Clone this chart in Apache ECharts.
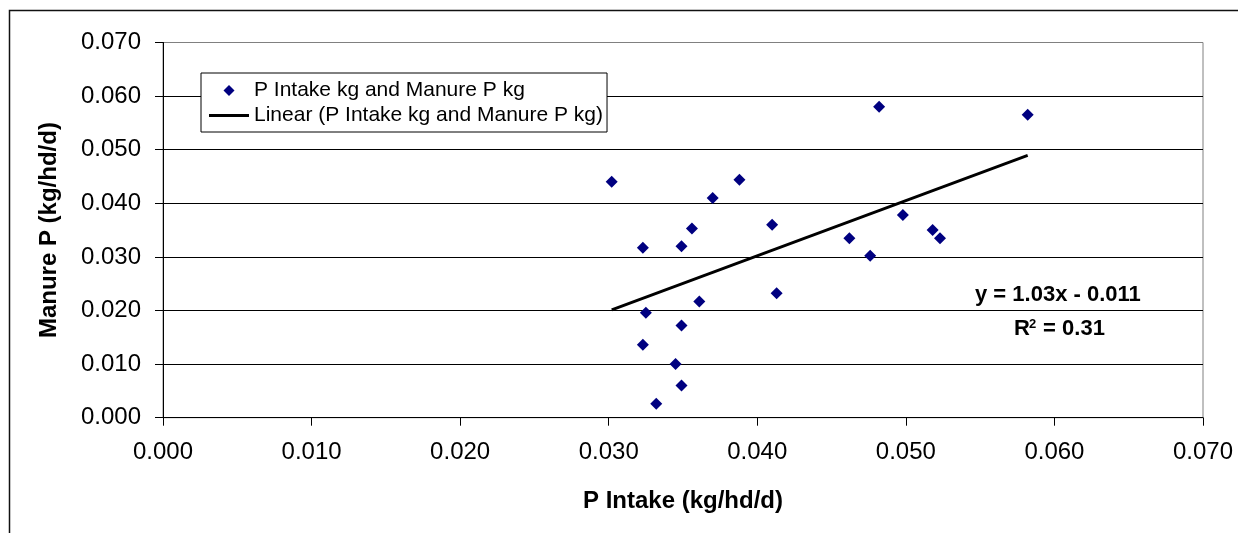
<!DOCTYPE html>
<html>
<head>
<meta charset="utf-8">
<script src="https://cdn.jsdelivr.net/npm/echarts@6/dist/echarts.min.js"></script>
<style>
html,body{margin:0;padding:0;background:#fff;}
#chart{width:1238px;height:533px;}
</style>
</head>
<body>
<div id="chart"></div>
<script>
// ---- data ----
const seriesName = 'P Intake kg and Manure P kg';
const trendName = 'Linear (P Intake kg and Manure P kg)';
const pIntake = [0.0302,0.0323,0.0325,0.0323,0.0332,0.0345,0.0349,0.0349,0.0349,0.0356,0.0361,0.0370,0.0388,0.0410,0.0413,0.0462,0.0476,0.0482,0.0498,0.0518,0.0523,0.0582];
const manureP = [0.0440,0.0317,0.0196,0.0136,0.0026,0.0100,0.0320,0.0172,0.0060,0.0353,0.0217,0.0410,0.0444,0.0360,0.0232,0.0335,0.0302,0.0580,0.0378,0.0350,0.0335,0.0565];
const trendSlope = 1.03;
const trendIntercept = -0.011;
const equationText = 'y = 1.03x - 0.011';
const r2Value = '0.31';
const xAxisTitle = 'P Intake (kg/hd/d)';
const yAxisTitle = 'Manure P (kg/hd/d)';

// ---- build ----
const FONT = "'Liberation Sans', Arial, sans-serif";
const points = pIntake.map((x, i) => [x, manureP[i]]);
const xMin = Math.min(...pIntake), xMax = Math.max(...pIntake);
const trendPoints = [xMin, xMax].map(x => [x, trendSlope * x + trendIntercept]);

const chart = echarts.init(document.getElementById('chart'), null, {renderer: 'canvas'});
chart.setOption({
  animation: false,
  backgroundColor: '#fff',
  textStyle: {fontFamily: FONT},
  grid: {left: 163, right: 35, top: 42.5, bottom: 115.3, show: true, borderColor: '#808080', borderWidth: 1, backgroundColor: 'transparent'},
  xAxis: {
    type: 'value', min: 0, max: 0.07, interval: 0.01,
    name: xAxisTitle, nameLocation: 'middle', nameGap: 72,
    nameTextStyle: {fontFamily: FONT, fontSize: 24, fontWeight: 'bold', color: '#000', lineHeight: 24},
    axisLine: {show: true, onZero: false, lineStyle: {color: '#000', width: 1}},
    axisTick: {show: true, inside: false, length: 8, lineStyle: {color: '#000'}},
    axisLabel: {margin: 23, fontFamily: FONT, fontSize: 24, color: '#000', formatter: v => v.toFixed(3)},
    splitLine: {show: false}
  },
  yAxis: {
    type: 'value', min: 0, max: 0.07, interval: 0.01,
    name: yAxisTitle, nameLocation: 'middle', nameGap: 102, nameRotate: 90,
    nameTextStyle: {fontFamily: FONT, fontSize: 24, fontWeight: 'bold', color: '#000', lineHeight: 24},
    axisLine: {show: true, onZero: false, lineStyle: {color: '#000', width: 1}},
    axisTick: {show: true, inside: false, length: 8, lineStyle: {color: '#000'}},
    axisLabel: {margin: 22, fontFamily: FONT, fontSize: 24, color: '#000', formatter: v => v.toFixed(3)},
    splitLine: {show: true, lineStyle: {color: ['#000','#000','#000','#000','#000','#000','#000','#808080'], width: 1}}
  },
  legend: {
    orient: 'vertical', left: 201, top: 73,
    padding: [7, 4, 6, 8],
    itemWidth: 40, itemHeight: 11, itemGap: 4,
    symbolKeepAspect: true,
    backgroundColor: '#fff', borderColor: '#000', borderWidth: 1,
    textStyle: {fontFamily: FONT, fontSize: 21, color: '#000', lineHeight: 21},
    data: [
      {name: seriesName, icon: 'path://M0,-1L1,0L0,1L-1,0Z', itemStyle: {color: '#000080', opacity: 1}},
      {name: trendName, icon: 'path://M0,0L40,0L40,3L0,3Z', itemStyle: {color: '#000', opacity: 1}}
    ]
  },
  series: [
    {
      name: seriesName, type: 'scatter', data: points,
      symbol: 'diamond', symbolSize: 12,
      itemStyle: {color: '#000080', opacity: 1}, z: 3
    },
    {
      name: trendName, type: 'line', data: trendPoints,
      symbol: 'none', showSymbol: false,
      lineStyle: {color: '#000', width: 2.8}, itemStyle: {color: '#000'}, z: 2
    }
  ],
  graphic: [
    {type: 'rect', shape: {x: 9.5, y: 10.5, width: 1400, height: 700}, style: {fill: 'none', stroke: '#111', lineWidth: 1.5}, silent: true, z: 10},
    {type: 'text', left: 975, top: 284, style: {text: equationText, fontFamily: FONT, fontSize: 22, fontWeight: 'bold', fill: '#000'}, z: 10},
    {type: 'text', left: 1014, top: 318, style: {text: 'R', fontFamily: FONT, fontSize: 22, fontWeight: 'bold', fill: '#000'}, z: 10},
    {type: 'text', left: 1029, top: 318, style: {text: '2', fontFamily: FONT, fontSize: 13, fontWeight: 'bold', fill: '#000'}, z: 10},
    {type: 'text', left: 1037, top: 318, style: {text: ' = ' + r2Value, fontFamily: FONT, fontSize: 22, fontWeight: 'bold', fill: '#000'}, z: 10}
  ]
});
</script>
</body>
</html>
